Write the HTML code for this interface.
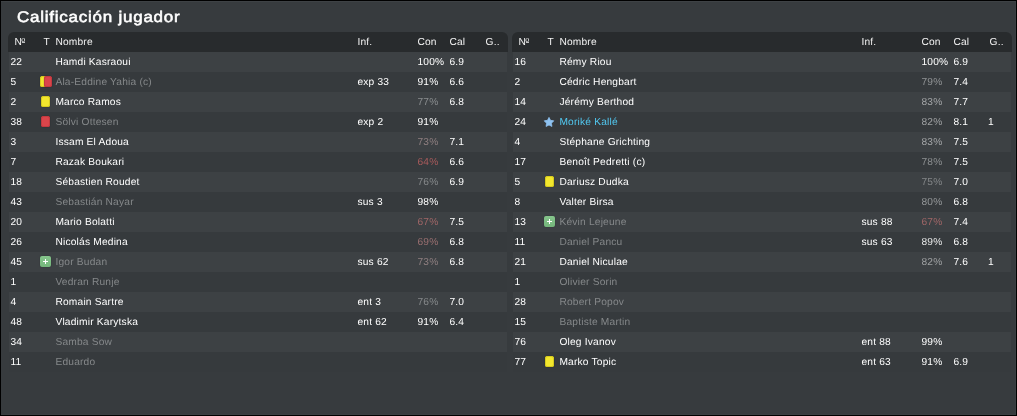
<!DOCTYPE html>
<html><head><meta charset="utf-8"><title>Calificación jugador</title>
<style>
html,body{margin:0;padding:0;}
body{width:1017px;height:416px;overflow:hidden;background:#373b3e;font-family:"Liberation Sans",sans-serif;position:relative;}
#root{position:absolute;left:0;top:0;width:1017px;height:416px;will-change:transform;}
#panel{position:absolute;left:0;top:0;width:1017px;height:416px;box-sizing:border-box;background:#373b3e;border:1px solid #000;box-shadow:inset 0 1px 0 #3e4245, inset -1px -1px 0 #3b3f42;}
#title{position:absolute;left:15.6px;top:6px;height:22px;line-height:22px;font-size:15.4px;font-weight:normal;-webkit-text-stroke:0.55px #fff;color:#fff;white-space:nowrap;letter-spacing:0.68px;transform:scaleX(1.105);transform-origin:0 0;text-rendering:geometricPrecision;}
.tbl{position:absolute;top:32px;width:500px;height:340px;}
.hdr{position:absolute;left:0;top:0;width:500px;height:20px;background:#282b2d;border-radius:6px 6px 0 0;}
.row{position:absolute;left:1px;width:498px;height:20px;}
.in{position:absolute;left:-0.6px;top:0;width:500px;height:20px;}
.row.a{background:#3d4144;}
.row.b{background:#363a3d;}
.c{position:absolute;top:1px;height:20px;line-height:20px;font-size:10.2px;color:#fff;white-space:nowrap;letter-spacing:0.2px;text-rendering:geometricPrecision;}
.hdr .c{color:#f2f2f2;margin-left:0.4px;}
.hdr .ord{font-size:7.2px;top:-2px;letter-spacing:0;}
.hdr .ul{position:absolute;left:13.5px;top:10px;width:3.7px;height:1px;background:#bfc0c1;}
.nm.dim{color:#85888a;}
.nm.hi{color:#52c8f0;}
.card{position:absolute;top:4px;width:9px;height:11px;border-radius:2.5px;margin-left:-0.4px;box-shadow:0 0 1px rgba(0,0,0,0.55);}
.card.y{background:#f3e72e;box-shadow:inset 0 0 0 1px #d6ca1f,0 0 1px rgba(0,0,0,0.6);}
.card.r{background:#da454b;box-shadow:inset 0 0 0 1px #c33a40,0 0 1px rgba(0,0,0,0.6);}
.sub{position:absolute;left:32px;top:4px;width:11px;height:11px;border-radius:2px;margin-left:-0.4px;background:linear-gradient(#86c58c,#74b67b);box-shadow:0 0 1px rgba(0,0,0,0.5);}
.sub .h{position:absolute;left:3px;top:5px;width:5px;height:1px;background:#fff;}
.sub .v{position:absolute;left:5px;top:3px;width:1px;height:5px;background:#fff;}
.star{position:absolute;left:31px;top:4.2px;margin-left:-0.4px;}
</style></head><body>
<div id="root">
<div id="panel">
<div id="title">Calificación jugador</div>
</div>
<div class="tbl" style="left:8px">
<div class="hdr"><span class="c" style="left:6px">N</span><span class="c ord" style="left:12.8px">o</span><i class="ul"></i><span class="c" style="left:35px">T</span><span class="c" style="left:47px">Nombre</span><span class="c" style="left:349px">Inf.</span><span class="c" style="left:409px">Con</span><span class="c" style="left:441px">Cal</span><span class="c" style="left:477.2px">G..</span></div>
<div class="row a" style="top:20px"><div class="in"><span class="c" style="left:2px">22</span><span class="c nm" style="left:47px">Hamdi Kasraoui</span><span class="c" style="left:409px;color:#ffffff">100%</span><span class="c" style="left:441px">6.9</span></div></div>
<div class="row b" style="top:40px"><div class="in"><span class="c" style="left:2px">5</span><i class="card y" style="left:32px;width:8px"></i><i class="card r" style="left:36px;width:8px"></i><span class="c nm dim" style="left:47px">Ala-Eddine Yahia (c)</span><span class="c" style="left:349px">exp 33</span><span class="c" style="left:409px;color:#ffffff">91%</span><span class="c" style="left:441px">6.6</span></div></div>
<div class="row a" style="top:60px"><div class="in"><span class="c" style="left:2px">2</span><i class="card y" style="left:33px"></i><span class="c nm" style="left:47px">Marco Ramos</span><span class="c" style="left:409px;color:#8a8d8f">77%</span><span class="c" style="left:441px">6.8</span></div></div>
<div class="row b" style="top:80px"><div class="in"><span class="c" style="left:2px">38</span><i class="card r" style="left:33px"></i><span class="c nm dim" style="left:47px">Sölvi Ottesen</span><span class="c" style="left:349px">exp 2</span><span class="c" style="left:409px;color:#ffffff">91%</span></div></div>
<div class="row a" style="top:100px"><div class="in"><span class="c" style="left:2px">3</span><span class="c nm" style="left:47px">Issam El Adoua</span><span class="c" style="left:409px;color:#8f7f80">73%</span><span class="c" style="left:441px">7.1</span></div></div>
<div class="row b" style="top:120px"><div class="in"><span class="c" style="left:2px">7</span><span class="c nm" style="left:47px">Razak Boukari</span><span class="c" style="left:409px;color:#a85a5b">64%</span><span class="c" style="left:441px">6.6</span></div></div>
<div class="row a" style="top:140px"><div class="in"><span class="c" style="left:2px">18</span><span class="c nm" style="left:47px">Sébastien Roudet</span><span class="c" style="left:409px;color:#86898b">76%</span><span class="c" style="left:441px">6.9</span></div></div>
<div class="row b" style="top:160px"><div class="in"><span class="c" style="left:2px">43</span><span class="c nm dim" style="left:47px">Sebastián Nayar</span><span class="c" style="left:349px">sus 3</span><span class="c" style="left:409px;color:#ffffff">98%</span></div></div>
<div class="row a" style="top:180px"><div class="in"><span class="c" style="left:2px">20</span><span class="c nm" style="left:47px">Mario Bolatti</span><span class="c" style="left:409px;color:#a06667">67%</span><span class="c" style="left:441px">7.5</span></div></div>
<div class="row b" style="top:200px"><div class="in"><span class="c" style="left:2px">26</span><span class="c nm" style="left:47px">Nicolás Medina</span><span class="c" style="left:409px;color:#9a6f70">69%</span><span class="c" style="left:441px">6.8</span></div></div>
<div class="row a" style="top:220px"><div class="in"><span class="c" style="left:2px">45</span><i class="sub"><b class="h"></b><b class="v"></b></i><span class="c nm dim" style="left:47px">Igor Budan</span><span class="c" style="left:349px">sus 62</span><span class="c" style="left:409px;color:#8f7f80">73%</span><span class="c" style="left:441px">6.8</span></div></div>
<div class="row b" style="top:240px"><div class="in"><span class="c" style="left:2px">1</span><span class="c nm dim" style="left:47px">Vedran Runje</span></div></div>
<div class="row a" style="top:260px"><div class="in"><span class="c" style="left:2px">4</span><span class="c nm" style="left:47px">Romain Sartre</span><span class="c" style="left:349px">ent 3</span><span class="c" style="left:409px;color:#86898b">76%</span><span class="c" style="left:441px">7.0</span></div></div>
<div class="row b" style="top:280px"><div class="in"><span class="c" style="left:2px">48</span><span class="c nm" style="left:47px">Vladimir Karytska</span><span class="c" style="left:349px">ent 62</span><span class="c" style="left:409px;color:#ffffff">91%</span><span class="c" style="left:441px">6.4</span></div></div>
<div class="row a" style="top:300px"><div class="in"><span class="c" style="left:2px">34</span><span class="c nm dim" style="left:47px">Samba Sow</span></div></div>
<div class="row b" style="top:320px"><div class="in"><span class="c" style="left:2px">11</span><span class="c nm dim" style="left:47px">Eduardo</span></div></div>
</div>
<div class="tbl" style="left:512px">
<div class="hdr"><span class="c" style="left:6px">N</span><span class="c ord" style="left:12.8px">o</span><i class="ul"></i><span class="c" style="left:35px">T</span><span class="c" style="left:47px">Nombre</span><span class="c" style="left:349px">Inf.</span><span class="c" style="left:409px">Con</span><span class="c" style="left:441px">Cal</span><span class="c" style="left:477.2px">G..</span></div>
<div class="row a" style="top:20px"><div class="in"><span class="c" style="left:2px">16</span><span class="c nm" style="left:47px">Rémy Riou</span><span class="c" style="left:409px;color:#ffffff">100%</span><span class="c" style="left:441px">6.9</span></div></div>
<div class="row b" style="top:40px"><div class="in"><span class="c" style="left:2px">2</span><span class="c nm" style="left:47px">Cédric Hengbart</span><span class="c" style="left:409px;color:#909395">79%</span><span class="c" style="left:441px">7.4</span></div></div>
<div class="row a" style="top:60px"><div class="in"><span class="c" style="left:2px">14</span><span class="c nm" style="left:47px">Jérémy Berthod</span><span class="c" style="left:409px;color:#a4a6a8">83%</span><span class="c" style="left:441px">7.7</span></div></div>
<div class="row b" style="top:80px"><div class="in"><span class="c" style="left:2px">24</span><svg class="star" width="12" height="12" viewBox="0 0 12 12"><path d="M6.00 1.40 L7.50 4.34 L10.76 4.85 L8.43 7.19 L8.94 10.45 L6.00 8.95 L3.06 10.45 L3.57 7.19 L1.24 4.85 L4.50 4.34 Z" fill="#8ec2f1" stroke="#8ec2f1" stroke-width="0.8" stroke-linejoin="round"/></svg><span class="c nm hi" style="left:47px">Moriké Kallé</span><span class="c" style="left:409px;color:#9fa1a3">82%</span><span class="c" style="left:441px">8.1</span><span class="c" style="left:475.7px">1</span></div></div>
<div class="row a" style="top:100px"><div class="in"><span class="c" style="left:2px">4</span><span class="c nm" style="left:47px">Stéphane Grichting</span><span class="c" style="left:409px;color:#a4a6a8">83%</span><span class="c" style="left:441px">7.5</span></div></div>
<div class="row b" style="top:120px"><div class="in"><span class="c" style="left:2px">17</span><span class="c nm" style="left:47px">Benoît Pedretti (c)</span><span class="c" style="left:409px;color:#8d9092">78%</span><span class="c" style="left:441px">7.5</span></div></div>
<div class="row a" style="top:140px"><div class="in"><span class="c" style="left:2px">5</span><i class="card y" style="left:33px"></i><span class="c nm" style="left:47px">Dariusz Dudka</span><span class="c" style="left:409px;color:#838688">75%</span><span class="c" style="left:441px">7.0</span></div></div>
<div class="row b" style="top:160px"><div class="in"><span class="c" style="left:2px">8</span><span class="c nm" style="left:47px">Valter Birsa</span><span class="c" style="left:409px;color:#95989a">80%</span><span class="c" style="left:441px">6.8</span></div></div>
<div class="row a" style="top:180px"><div class="in"><span class="c" style="left:2px">13</span><i class="sub"><b class="h"></b><b class="v"></b></i><span class="c nm dim" style="left:47px">Kévin Lejeune</span><span class="c" style="left:349px">sus 88</span><span class="c" style="left:409px;color:#a06667">67%</span><span class="c" style="left:441px">7.4</span></div></div>
<div class="row b" style="top:200px"><div class="in"><span class="c" style="left:2px">11</span><span class="c nm dim" style="left:47px">Daniel Pancu</span><span class="c" style="left:349px">sus 63</span><span class="c" style="left:409px;color:#e8e9e9">89%</span><span class="c" style="left:441px">6.8</span></div></div>
<div class="row a" style="top:220px"><div class="in"><span class="c" style="left:2px">21</span><span class="c nm" style="left:47px">Daniel Niculae</span><span class="c" style="left:409px;color:#9fa1a3">82%</span><span class="c" style="left:441px">7.6</span><span class="c" style="left:475.7px">1</span></div></div>
<div class="row b" style="top:240px"><div class="in"><span class="c" style="left:2px">1</span><span class="c nm dim" style="left:47px">Olivier Sorin</span></div></div>
<div class="row a" style="top:260px"><div class="in"><span class="c" style="left:2px">28</span><span class="c nm dim" style="left:47px">Robert Popov</span></div></div>
<div class="row b" style="top:280px"><div class="in"><span class="c" style="left:2px">15</span><span class="c nm dim" style="left:47px">Baptiste Martin</span></div></div>
<div class="row a" style="top:300px"><div class="in"><span class="c" style="left:2px">76</span><span class="c nm" style="left:47px">Oleg Ivanov</span><span class="c" style="left:349px">ent 88</span><span class="c" style="left:409px;color:#ffffff">99%</span></div></div>
<div class="row b" style="top:320px"><div class="in"><span class="c" style="left:2px">77</span><i class="card y" style="left:33px"></i><span class="c nm" style="left:47px">Marko Topic</span><span class="c" style="left:349px">ent 63</span><span class="c" style="left:409px;color:#ffffff">91%</span><span class="c" style="left:441px">6.9</span></div></div>
</div>
</div>
</body></html>
